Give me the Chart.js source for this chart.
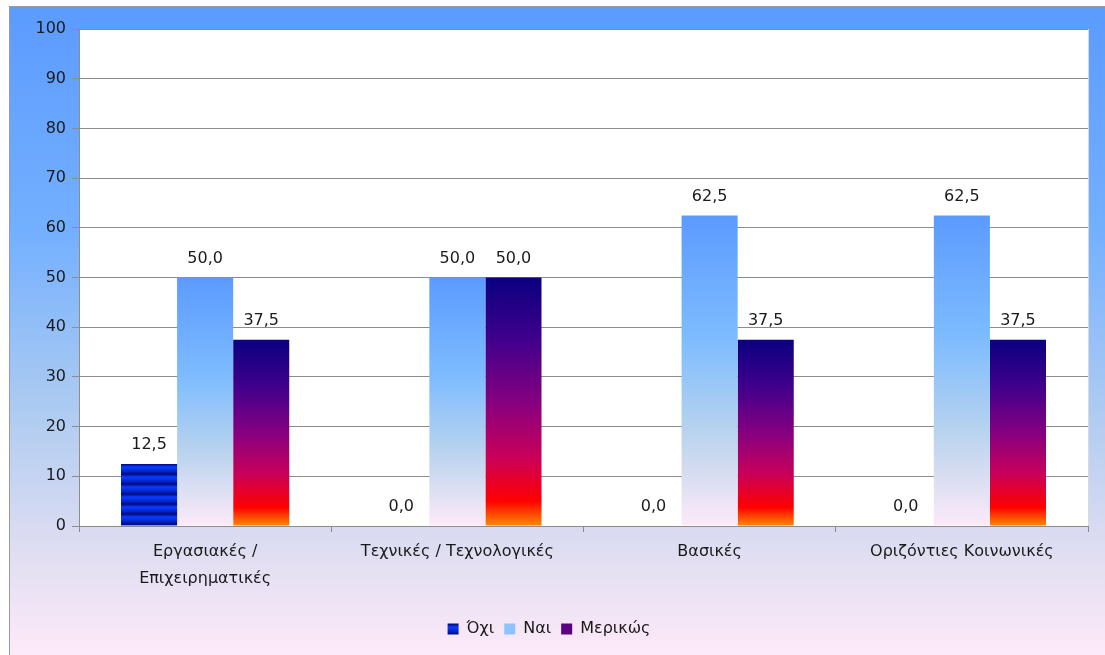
<!DOCTYPE html>
<html>
<head>
<meta charset="utf-8">
<script src="https://cdn.jsdelivr.net/npm/chart.js@4.4.1/dist/chart.umd.min.js"></script>
<style>
    html, body { margin: 0; padding: 0; background: #fff; }
    #wrap {
        position: absolute; left: 9px; top: 6px; width: 1096px; height: 649px;
        border-left: 1px solid #9a9a9a; border-top: 1px solid #9a9a9a;
    }
</style>
</head>
<body>
<div id="wrap"><canvas id="skills-chart" width="1095" height="648"></canvas></div>
<script>
    const categories = [['Εργασιακές /', 'Επιχειρηματικές'], 'Τεχνικές / Τεχνολογικές', 'Βασικές', 'Οριζόντιες Κοινωνικές'];
    const seriesNames = ['Όχι', 'Ναι', 'Μερικώς'];
    const noValues = [12.5, 0, 0, 0];
    const yesValues = [50, 50, 62.5, 62.5];
    const partlyValues = [37.5, 50, 37.5, 37.5];
    const yTicks = [0, 10, 20, 30, 40, 50, 60, 70, 80, 90, 100];

    const FONT = 'DejaVu Sans';
    const FS = 16;

    // striped blue fill for "Όχι"
    function stripePattern(ctx) {
        const c = document.createElement('canvas');
        c.width = 4; c.height = 10;
        const p = c.getContext('2d');
        const g = p.createLinearGradient(0, 0, 0, 10);
        g.addColorStop(0, '#0a3cff');
        g.addColorStop(0.45, '#0024c8');
        g.addColorStop(0.7, '#00087a');
        g.addColorStop(1, '#0a3cff');
        p.fillStyle = g;
        p.fillRect(0, 0, 4, 10);
        return ctx.createPattern(c, 'repeat');
    }

    function barGradient(context, stops) {
        const chart = context.chart;
        if (!chart.chartArea || context.parsed === undefined) return stops[0][1];
        const y = chart.scales.y;
        const top = y.getPixelForValue(context.parsed.y);
        const bottom = y.getPixelForValue(0);
        if (bottom - top < 1) return stops[0][1];
        const g = chart.ctx.createLinearGradient(0, top, 0, bottom);
        stops.forEach(s => g.addColorStop(s[0], s[1]));
        return g;
    }

    const yesStops = [[0, '#5b9bff'], [0.4, '#7ebcff'], [0.7, '#b9d3ee'], [1, '#fdeaf8']];
    const partlyStops = [[0, '#0a0080'], [0.25, '#40008c'], [0.5, '#850080'], [0.72, '#c8005a'], [0.9, '#ff0000'], [1, '#ff8a00']];

    const chartBg = {
        id: 'chartBg',
        beforeDraw(chart) {
            const { ctx, width, height, chartArea } = chart;
            ctx.save();
            const g = ctx.createLinearGradient(0, 0, 0, height);
            g.addColorStop(0, '#5b9bff');
            g.addColorStop(0.35, '#74b0ff');
            g.addColorStop(0.62, '#adcbf1');
            g.addColorStop(0.85, '#e2def2');
            g.addColorStop(1, '#fdeaf8');
            ctx.fillStyle = g;
            ctx.fillRect(0, 0, width, height);
            ctx.fillStyle = '#ffffff';
            ctx.fillRect(chartArea.left, chartArea.top, chartArea.right - chartArea.left, chartArea.bottom - chartArea.top);
            ctx.strokeStyle = '#d8d8e0';
            ctx.beginPath();
            ctx.moveTo(chartArea.right + 0.5, chartArea.top);
            ctx.lineTo(chartArea.right + 0.5, chartArea.bottom);
            ctx.stroke();
            ctx.restore();
        }
    };

    const valueLabels = {
        id: 'valueLabels',
        afterDatasetsDraw(chart) {
            const ctx = chart.ctx;
            ctx.save();
            ctx.font = FS + 'px "' + FONT + '"';
            ctx.fillStyle = '#1a1a1a';
            ctx.textAlign = 'center';
            ctx.textBaseline = 'bottom';
            chart.data.datasets.forEach((ds, i) => {
                chart.getDatasetMeta(i).data.forEach((bar, j) => {
                    const txt = ds.data[j].toFixed(1).replace('.', ',');
                    ctx.fillText(txt, bar.x, bar.y - 11);
                });
            });
            ctx.restore();
        }
    };

    const canvas = document.getElementById('skills-chart');
    const ctx = canvas.getContext('2d');
    const stripes = stripePattern(ctx);

    new Chart(canvas, {
        type: 'bar',
        data: {
            labels: categories,
            datasets: [
                {
                    label: seriesNames[0],
                    data: noValues,
                    backgroundColor: stripes,
                    borderWidth: 0,
                },
                {
                    label: seriesNames[1],
                    data: yesValues,
                    backgroundColor: (c) => barGradient(c, yesStops),
                    borderWidth: 0,
                },
                {
                    label: seriesNames[2],
                    data: partlyValues,
                    backgroundColor: (c) => barGradient(c, partlyStops),
                    borderWidth: 0,
                },
            ],
        },
        options: {
            responsive: false,
            animation: false,
            layout: { padding: { left: 0, top: 22, right: 17, bottom: 8 } },
            datasets: { bar: { categoryPercentage: 0.667, barPercentage: 1 } },
            scales: {
                x: {
                    grid: { offset: true, drawOnChartArea: false, drawTicks: true, tickLength: 6, color: '#8c8c8c' },
                    border: { color: '#8c8c8c', width: 1 },
                    ticks: { font: { family: FONT, size: FS, lineHeight: 1.65 }, color: '#1a1a1a', padding: 7, maxRotation: 0, autoSkip: false },
                    afterFit(scale) { scale.height = 85; },
                },
                y: {
                    min: 0,
                    max: 100,
                    afterBuildTicks(scale) { scale.ticks = yTicks.map(v => ({ value: v })); },
                    grid: { color: '#8c8c8c', tickLength: 7 },
                    border: { color: '#8c8c8c', width: 1 },
                    ticks: { font: { family: FONT, size: FS }, color: '#1a1a1a', padding: 6 },
                    afterFit(scale) { scale.width = 69; },
                },
            },
            plugins: {
                legend: {
                    position: 'bottom',
                    labels: {
                        font: { family: FONT, size: FS },
                        color: '#1a1a1a',
                        boxWidth: 11,
                        boxHeight: 11,
                        padding: 10,
                        generateLabels(chart) {
                            const fills = [stripes, '#8ec2ff', '#5a0080'];
                            return chart.data.datasets.map((ds, i) => ({
                                text: ds.label,
                                fillStyle: fills[i],
                                strokeStyle: fills[i],
                                lineWidth: 0,
                                fontColor: '#1a1a1a',
                                datasetIndex: i,
                            }));
                        },
                    },
                },
                tooltip: { enabled: false },
                title: { display: false },
            },
        },
        plugins: [chartBg, valueLabels],
    });
</script>
</body>
</html>
